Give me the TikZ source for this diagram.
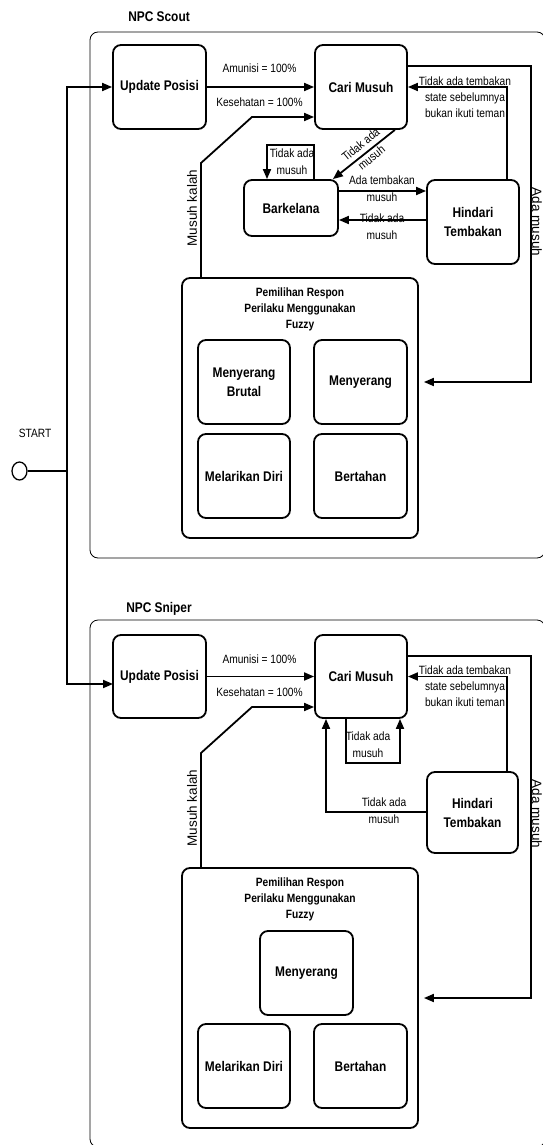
\documentclass[tikz,border=0pt]{standalone}
\usepackage{fontspec}
\setmainfont{Liberation Sans}[FakeStretch=0.85]
\newfontfamily\rotfont{Liberation Sans}
\usetikzlibrary{arrows.meta,calc,shapes.geometric}
\tikzset{
  box/.style={draw, line width=1.8pt, rounded corners=8pt, align=center, inner sep=2pt,
    font=\fontsize{14}{19}\selectfont\bfseries},
  frame/.style={draw, line width=0.8pt, rounded corners=8pt},
  conn/.style={line width=1.8pt},
  arr/.style={line width=1.8pt, -{Triangle[length=10pt,width=8pt]}},
  lbl/.style={align=center, inner sep=0pt, font=\fontsize{12}{17}\selectfont},
  ttl/.style={align=center, inner sep=0pt, font=\fontsize{12}{16}\selectfont\bfseries},
  hdr/.style={inner sep=0pt, font=\fontsize{14}{17}\selectfont\bfseries},
  rlbl/.style={inner sep=0pt, font=\rotfont\fontsize{13.5}{16}\selectfont}
}
\begin{document}
\begin{tikzpicture}[x=1pt,y=-1pt]
\useasboundingbox (0,0) rectangle (542,1145);
% ---------- frames ----------
\draw[frame] (90,32) rectangle (545,558);
\draw[frame] (90,620) rectangle (545,1147);
\node[hdr] (h1) at (159,17) {NPC Scout};
\node[hdr] (h2) at (159,609) {NPC Sniper};
% ---------- start ----------
\node[draw, line width=1.3pt, ellipse, minimum width=15pt, minimum height=18pt, inner sep=0pt] (start) at (19.5,471) {};
\node[lbl] (startlbl) at (35,433) {START};
\coordinate (j1) at (67,471);
\coordinate (e2) at (113,684);
% ---------- Scout ----------
\node[box, minimum width=93pt, minimum height=84pt] (upd1) at (159.5,87) {Update Posisi};
\node[box, minimum width=92pt, minimum height=84pt] (cari1) at (361,87) {Cari Musuh};
\node[box, minimum width=94pt, minimum height=56pt] (bark) at (291,208) {Barkelana};
\node[box, minimum width=92pt, minimum height=84pt] (hind1) at (473,222) {Hindari\\Tembakan};
\node[draw, line width=1.8pt, rounded corners=8pt, minimum width=236pt, minimum height=260pt] (fuzzy1) at (300,408) {};
\node[ttl] (t1) at (300,309) {Pemilihan Respon\\Perilaku Menggunakan\\Fuzzy};
\node[box, minimum width=92pt, minimum height=84pt] (mb1) at (244,382) {Menyerang\\Brutal};
\node[box, minimum width=93pt, minimum height=84pt] (m1) at (360.5,382) {Menyerang};
\node[box, minimum width=92pt, minimum height=84pt] (ld1) at (244,476) {Melarikan Diri};
\node[box, minimum width=93pt, minimum height=84pt] (bt1) at (360.5,476) {Bertahan};
\coordinate (mk1) at (201,278);
% ---------- Sniper ----------
\node[box, minimum width=93pt, minimum height=83pt] (upd2) at (159.5,676.5) {Update Posisi};
\node[box, minimum width=92pt, minimum height=83pt] (cari2) at (361,676.5) {Cari Musuh};
\node[box, minimum width=91pt, minimum height=81pt] (hind2) at (472.5,812.5) {Hindari\\Tembakan};
\node[draw, line width=1.8pt, rounded corners=8pt, minimum width=236pt, minimum height=260pt] (fuzzy2) at (300,998) {};
\node[ttl] (t2) at (300,899) {Pemilihan Respon\\Perilaku Menggunakan\\Fuzzy};
\node[box, minimum width=93pt, minimum height=84pt] (m2) at (306.5,973) {Menyerang};
\node[box, minimum width=92pt, minimum height=84pt] (ld2) at (244,1066) {Melarikan Diri};
\node[box, minimum width=93pt, minimum height=84pt] (bt2) at (360.5,1066) {Bertahan};
\coordinate (mk2) at (201,868);
% ---------- start connectors ----------
\draw[conn] (start.east) -- (j1);
\draw[arr] (j1) |- (upd1.west);
\draw[arr] (j1) |- (e2);
% ---------- Scout connectors ----------
\draw[arr] (upd1.east) -- (cari1.west);
\draw[arr] (mk1) -- (201,163) -- (252,117) -- ([yshift=-30pt]cari1.west);
\draw[arr] ([xshift=-13pt]cari1.south east) -- ([xshift=-6pt]bark.north east);
\draw[arr] ([xshift=23pt]bark.north) -- ++(0,-34) -| ([xshift=-24pt]bark.north);
\draw[arr] ([yshift=17pt]bark.east) -- ([yshift=31pt]hind1.west);
\draw[arr] ([yshift=2pt]hind1.west) -- ([yshift=-12pt]bark.east);
\draw[arr] ([xshift=34pt]hind1.north) |- (cari1.east);
\draw[arr] ([yshift=21pt]cari1.east) -- (531,66) -- (531,382) -- ([xshift=5pt,yshift=26pt]fuzzy1.east);
% labels
\node[lbl] (a1) at (259.5,68) {Amunisi = 100\%};
\node[lbl] (k1) at (259.5,102) {Kesehatan = 100\%};
\node[lbl] (l1) at (292,162) {Tidak ada\\musuh};
\node[lbl, rotate=39] (l2) at (366,151) {Tidak ada\\musuh};
\node[lbl] (l3) at (382,188.5) {Ada tembakan\\musuh};
\node[lbl] (l4) at (382,226.5) {Tidak ada\\musuh};
\node[lbl, font=\fontsize{12}{16}\selectfont] (l5) at (465,97) {Tidak ada tembakan\\state sebelumnya\\bukan ikuti teman};
\node[rlbl, rotate=90] (l6) at (192,208) {Musuh kalah};
\node[rlbl, rotate=-90] (l7) at (537,222) {Ada musuh};
% ---------- Sniper connectors ----------
\draw[arr] (upd2.east) -- (cari2.west);
\draw[arr] (mk2) -- (201,753) -- (252,707) -- ([yshift=-30.5pt]cari2.west);
\draw[arr] ([xshift=-15pt]cari2.south) -- ++(0,44) -| ([xshift=39pt]cari2.south);
\draw[arr] ([yshift=0.5pt]hind2.west) -| ([xshift=-35pt]cari2.south);
\draw[arr] ([xshift=34.5pt]hind2.north) |- (cari2.east);
\draw[arr] ([yshift=20.5pt]cari2.east) -- (531,656) -- (531,998) -- ([xshift=5pt]fuzzy2.east);
% labels
\node[lbl] (a2) at (259.5,659) {Amunisi = 100\%};
\node[lbl] (k2) at (259.5,692) {Kesehatan = 100\%};
\node[lbl] (l8) at (368,745) {Tidak ada\\musuh};
\node[lbl] (l9) at (384,811) {Tidak ada\\musuh};
\node[lbl, font=\fontsize{12}{16}\selectfont] (l10) at (465,686) {Tidak ada tembakan\\state sebelumnya\\bukan ikuti teman};
\node[rlbl, rotate=90] (l11) at (192,808) {Musuh kalah};
\node[rlbl, rotate=-90] (l12) at (537,814) {Ada musuh};
\end{tikzpicture}
\end{document}
